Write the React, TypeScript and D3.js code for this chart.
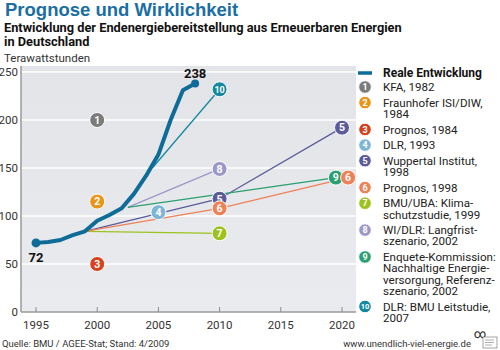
import * as d3 from "d3";

const realYears = [1995, 1996, 1997, 1998, 1999, 2000, 2001, 2002, 2003, 2004, 2005, 2006, 2007, 2008];
const realValues = [72, 73, 75, 80, 84, 95, 101, 108, 123, 142, 164, 200, 231, 238];

// one entry per study: years and values of its forecast path
const scenarioYears = [
  [2000], [2000], [2000], [2005],
  [1999, 2010, 2020], [1999, 2010, 2020.5], [1999, 2010],
  [2002.5, 2010], [2002.5, 2019.5], [2004.5, 2010],
];
const scenarioValues = [
  [200], [115], [50], [104],
  [84, 118, 192], [84, 108, 140], [84, 82],
  [109, 149], [109, 140], [150, 232],
];
const scenarioLegend = [
  ["KFA, 1982"],
  ["Fraunhofer ISI/DIW,", "1984"],
  ["Prognos, 1984"],
  ["DLR, 1993"],
  ["Wuppertal Institut,", "1998"],
  ["Prognos, 1998"],
  ["BMU/UBA: Klima-", "schutzstudie, 1999"],
  ["WI/DLR: Langfrist-", "szenario, 2002"],
  ["Enquete-Kommission:", "Nachhaltige Energie-", "versorgung, Referenz-", "szenario, 2002"],
  ["DLR: BMU Leitstudie,", "2007"],
];
const xTicks = [1995, 2000, 2005, 2010, 2015, 2020];
const yTicks = [0, 50, 100, 150, 200, 250];

const colors = ["#7b7b7b", "#e9951a", "#d8431f", "#7db6d4", "#5b5b9b", "#ef8157", "#9dc21f", "#9b98c9", "#2a9f70", "#15899f"];
const realColor = "#0e6c98";
// draw order of the lines and markers (later = on top)
const drawOrder = [0, 1, 2, 6, 4, 3, 7, 8, 5, 9];

const font = "Roboto, 'DejaVu Sans', sans-serif";

export default function App() {
  const W = 500, H = 350;
  const x = d3.scaleLinear().domain([1995, 2020]).range([36, 342]);
  const y = d3.scaleLinear().domain([0, 250]).range([312, 72]);
  const plot = { left: 21, right: 356, top: 66, bottom: 312 };

  const line = d3.line<[number, number]>().x((d) => x(d[0])).y((d) => y(d[1]));
  const realPts = realYears.map((yr, i) => [yr, realValues[i]] as [number, number]);

  // legend row positions
  const legendRows: number[] = [];
  let cy = 87;
  scenarioLegend.forEach((l) => {
    legendRows.push(cy);
    cy += (l.length - 1) * 11.3 + 15.6;
  });

  const marker = (key: string, cx: number, cyy: number, idx: number, r: number, fs: number) => (
    <g key={key}>
      <circle cx={cx} cy={cyy} r={r} fill={colors[idx]} stroke="#fff" strokeWidth={1} />
      <text x={cx} y={cyy + fs * 0.36} textAnchor="middle" fontSize={fs} fontWeight="bold" fill="#fff" fontFamily={font}>
        {idx + 1}
      </text>
    </g>
  );

  return (
    <div style={{ position: "absolute", left: 0, top: 0 }}>
      <svg width={W} height={H} style={{ display: "block", background: "#fff" }}>
        <defs>
          <linearGradient id="bg" x1="0" y1="0" x2="0" y2="1">
            <stop offset="0" stopColor="#e3e4e8" />
            <stop offset="1" stopColor="#eaebee" />
          </linearGradient>
        </defs>

        {/* titles */}
        <text x={5} y={16} fontSize={18.5} fontWeight="bold" fill="#1a6ea3" fontFamily="'Liberation Sans', Arial, sans-serif">
          Prognose und Wirklichkeit
        </text>
        <text x={4} y={32} fontSize={12.8} fontWeight="bold" fill="#111" fontFamily={font}>
          Entwicklung der Endenergiebereitstellung aus Erneuerbaren Energien
        </text>
        <text x={4} y={46} fontSize={12.8} fontWeight="bold" fill="#111" fontFamily={font}>
          in Deutschland
        </text>
        <text x={4} y={62} fontSize={11.5} fill="#333" fontFamily={font}>
          Terawattstunden
        </text>

        {/* plot background */}
        <rect x={plot.left} y={plot.top} width={plot.right - plot.left} height={plot.bottom - plot.top} fill="url(#bg)" />
        {yTicks.filter((t) => t > 0).map((t) => (
          <line key={t} x1={plot.left} x2={plot.right} y1={y(t)} y2={y(t)} stroke="#fff" strokeWidth={1.5} />
        ))}

        {/* axes */}
        <line x1={plot.left} x2={plot.left} y1={plot.top} y2={plot.bottom} stroke="#9a9a9a" strokeWidth={1.5} />
        <line x1={plot.left} x2={plot.right} y1={plot.bottom} y2={plot.bottom} stroke="#9a9a9a" strokeWidth={1.5} />
        {xTicks.map((t) => (
          <g key={t}>
            <line x1={x(t)} x2={x(t)} y1={plot.bottom - 5} y2={plot.bottom} stroke="#8a8a8a" strokeWidth={1} />
            <text x={x(t)} y={329} textAnchor="middle" fontSize={11.5} fill="#333" fontFamily={font}>
              {t}
            </text>
          </g>
        ))}
        {yTicks.map((t) => (
          <text key={t} x={18} y={y(t) + 4} textAnchor="end" fontSize={11.5} fill="#333" fontFamily={font}>
            {t}
          </text>
        ))}

        {/* forecast lines */}
        {drawOrder.map((i) =>
          scenarioYears[i].length > 1 ? (
            <path
              key={"l" + i}
              d={line(scenarioYears[i].map((yr, k) => [yr, scenarioValues[i][k]] as [number, number])) ?? ""}
              fill="none"
              stroke={colors[i]}
              strokeWidth={1.3}
            />
          ) : null
        )}

        {/* real development */}
        <path d={line(realPts) ?? ""} fill="none" stroke={realColor} strokeWidth={4} strokeLinejoin="round" />
        <circle cx={x(realYears[0])} cy={y(realValues[0])} r={4.5} fill={realColor} />
        <circle cx={x(realYears[realYears.length - 1])} cy={y(realValues[realValues.length - 1])} r={4} fill={realColor} />
        <text x={x(realYears[0])} y={y(realValues[0]) + 19} textAnchor="middle" fontSize={13} fontWeight="bold" fill="#111" fontFamily={font}>
          {realValues[0]}
        </text>
        <text x={x(realYears[realYears.length - 1])} y={y(realValues[realValues.length - 1]) - 6} textAnchor="middle" fontSize={13} fontWeight="bold" fill="#111" fontFamily={font}>
          {realValues[realValues.length - 1]}
        </text>

        {/* numbered markers */}
        {drawOrder.map((i) =>
          scenarioYears[i].map((yr, k) =>
            scenarioYears[i].length === 1 || k > 0
              ? marker(`m${i}-${k}`, x(yr), y(scenarioValues[i][k]), i, 7.5, i === 9 ? 9 : 10.5)
              : null
          )
        )}

        {/* legend */}
        <line x1={358} x2={372} y1={73} y2={73} stroke={realColor} strokeWidth={3.5} />
        <text x={383} y={77} fontSize={12} fontWeight="bold" fill="#111" fontFamily={font}>
          Reale Entwicklung
        </text>
        {scenarioLegend.map((lines, i) => (
          <g key={"lg" + i}>
            {marker("lm" + i, 365, legendRows[i], i, 6.3, i === 9 ? 7.5 : 9)}
            {lines.map((s, k) => (
              <text key={k} x={383} y={legendRows[i] + 4 + k * 11.3} fontSize={11.6} fill="#222" fontFamily={font}>
                {s}
              </text>
            ))}
          </g>
        ))}

        {/* footer */}
        <text x={2} y={347} fontSize={9.5} fill="#333" fontFamily={font}>
          Quelle: BMU / AGEE-Stat; Stand: 4/2009
        </text>
        <text x={471} y={347} textAnchor="end" fontSize={9.5} fill="#333" fontFamily={font}>
          www.unendlich-viel-energie.de
        </text>
        <text x={480} y={338} textAnchor="middle" fontSize={12} fill="#222" fontFamily={font}>
          ∞
        </text>
        <rect x={483} y={337} width={14} height={11} fill="#fff" stroke="#666" strokeWidth={0.6} />
        <line x1={485} x2={494} y1={340} y2={340} stroke="#999" strokeWidth={0.8} />
        <line x1={485} x2={494} y1={342.5} y2={342.5} stroke="#999" strokeWidth={0.8} />
        <line x1={485} x2={492} y1={345} y2={345} stroke="#999" strokeWidth={0.8} />
      </svg>
    </div>
  );
}
